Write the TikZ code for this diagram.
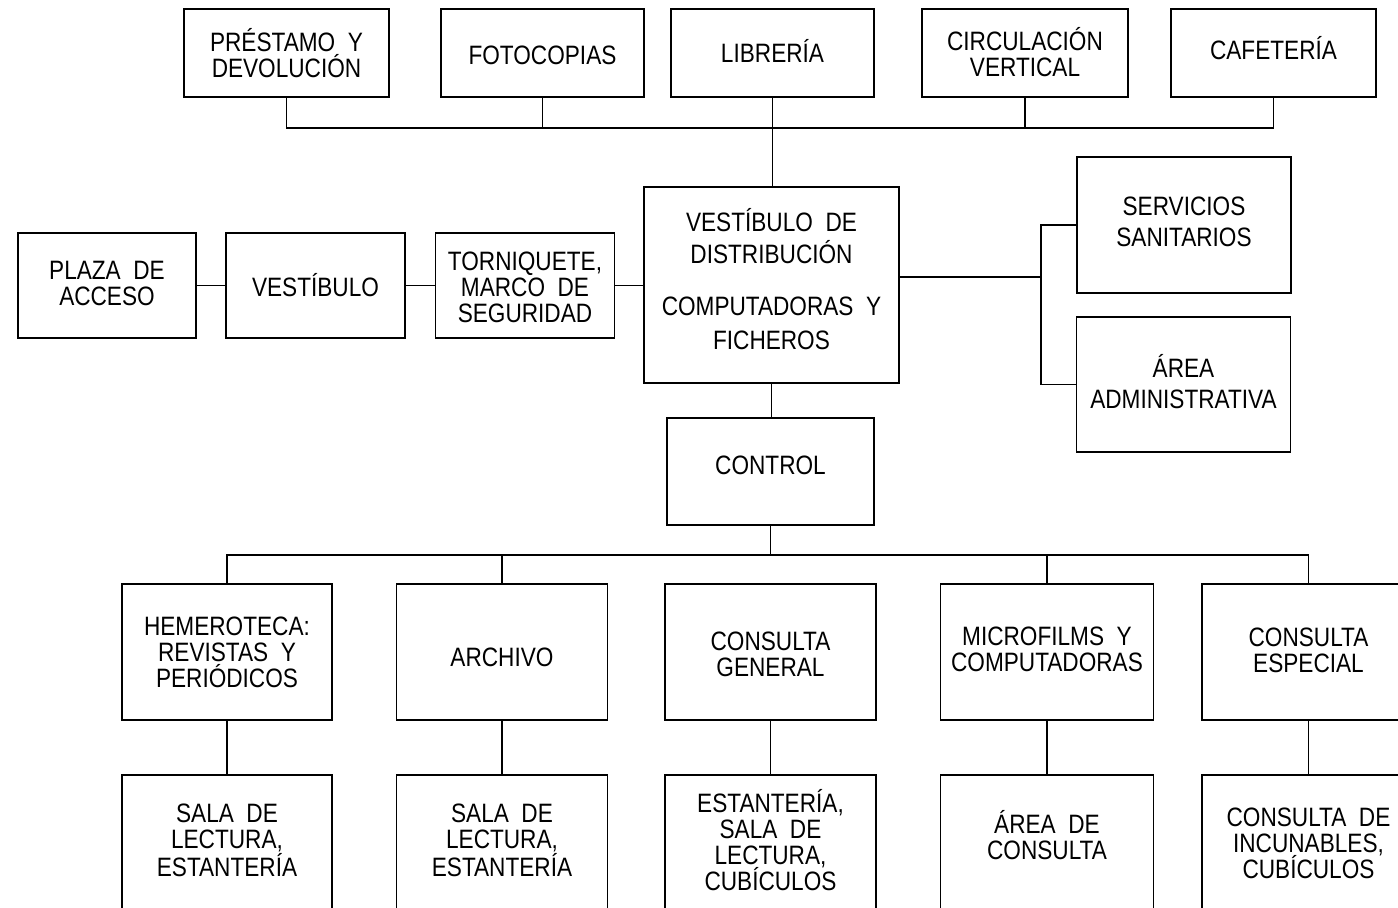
\documentclass[tikz,border=0pt]{standalone}
\usepackage{fontspec}
\setmainfont{Liberation Sans}[FakeStretch=0.85]
\begin{document}
\begin{tikzpicture}[x=0.5pt,y=-0.5pt,
  box/.style={draw,line width=0.9pt,rectangle,inner sep=0pt},
  txt/.style={inner sep=0pt,align=center,
    font={\fontsize{13.3}{13}\selectfont\lineskiplimit=-20pt}},
  link/.style={line width=0.8pt}]
\useasboundingbox (0,0) rectangle (1398,907);
\clip (0,0) rectangle (1398,907);
% top row
\node[box,minimum width=102.5pt,minimum height=44pt] (pres) at (286.5,53) {};
\node[txt] (prest) at (pres.center) {PRÉSTAMO\ \ Y\\DEVOLUCIÓN};
\node[box,minimum width=101.5pt,minimum height=44pt] (foto) at (542.5,53) {};
\node[txt] (fotot) at ([yshift=-1pt]foto.center) {FOTOCOPIAS};
\node[box,minimum width=101.5pt,minimum height=44pt] (libr) at (772.5,53) {};
\node[txt] (librt) at ([yshift=1pt]libr.center) {LIBRERÍA};
\node[box,minimum width=103pt,minimum height=44pt] (circ) at (1025,53) {};
\node[txt] (circt) at ([yshift=0.5pt]circ.center) {CIRCULACIÓN\\VERTICAL};
\node[box,minimum width=102.5pt,minimum height=44pt] (cafe) at (1273.5,53) {};
\node[txt] (cafet) at ([yshift=2.5pt]cafe.center) {CAFETERÍA};
% middle row
\node[box,minimum width=89pt,minimum height=52.5pt] (plaza) at (107,285.5) {};
\node[txt] (plazat) at ([yshift=1pt]plaza.center) {PLAZA\ \ DE\\ACCESO};
\node[box,minimum width=89.5pt,minimum height=52.5pt] (vest) at (315.5,285.5) {};
\node[txt] (vestt) at (vest.center) {VESTÍBULO};
\node[box,minimum width=89.5pt,minimum height=52.5pt] (torn) at (525,285.5) {};
\node[txt] (tornt) at ([yshift=-1pt]torn.center) {TORNIQUETE,\\MARCO\ \ DE\\SEGURIDAD};
\node[box,minimum width=127.5pt,minimum height=98pt] (dist) at (771.5,285) {};
\node[txt] (distt) at ([yshift=3pt]dist.center) {VESTÍBULO\ \ DE\\[3pt]DISTRIBUCIÓN\\[13pt]COMPUTADORAS\ \ Y\\[4pt]FICHEROS};
\node[box,minimum width=107pt,minimum height=68pt] (serv) at (1184,225) {};
\node[txt] (servt) at ([yshift=1.5pt]serv.center) {SERVICIOS\\[2.5pt]SANITARIOS};
\node[box,minimum width=107pt,minimum height=67.5pt] (area) at (1183.5,384.5) {};
\node[txt] (areat) at ([yshift=1.5pt]area.center) {ÁREA\\[2.5pt]ADMINISTRATIVA};
\node[box,minimum width=103.5pt,minimum height=53.5pt] (ctrl) at (770.5,471.5) {};
\node[txt] (ctrlt) at ([yshift=3pt]ctrl.center) {CONTROL};
% bottom row 1
\node[box,minimum width=105pt,minimum height=68pt] (hem) at (227,652) {};
\node[txt] (hemt) at (hem.center) {HEMEROTECA:\\REVISTAS\ \ Y\\PERIÓDICOS};
\node[box,minimum width=105.5pt,minimum height=68pt] (arch) at (502,652) {};
\node[txt] (archt) at ([yshift=-2.5pt]arch.center) {ARCHIVO};
\node[box,minimum width=105.5pt,minimum height=68pt] (cg) at (770.5,652) {};
\node[txt] (cgt) at ([yshift=-1pt]cg.center) {CONSULTA\\GENERAL};
\node[box,minimum width=106.5pt,minimum height=68pt] (micro) at (1047,652) {};
\node[txt] (microt) at ([yshift=1.5pt]micro.center) {MICROFILMS\ \ Y\\COMPUTADORAS};
\node[box,minimum width=106.5pt,minimum height=68pt] (ce) at (1308.5,652) {};
\node[txt] (cet) at ([yshift=1pt]ce.center) {CONSULTA\\ESPECIAL};
% bottom row 2
\node[box,minimum width=105pt,minimum height=68pt] (hem2) at (227,843) {};
\node[txt] (hem2t) at ([yshift=1.5pt]hem2.center) {SALA\ \ DE\\LECTURA,\\[1pt]ESTANTERÍA};
\node[box,minimum width=105.5pt,minimum height=68pt] (arch2) at (502,843) {};
\node[txt] (arch2t) at ([yshift=1.5pt]arch2.center) {SALA\ \ DE\\LECTURA,\\[1pt]ESTANTERÍA};
\node[box,minimum width=105.5pt,minimum height=68pt] (cg2) at (770.5,843) {};
\node[txt] (cg2t) at ([yshift=1.5pt]cg2.center) {ESTANTERÍA,\\SALA\ \ DE\\LECTURA,\\CUBÍCULOS};
\node[box,minimum width=106.5pt,minimum height=68pt] (micro2) at (1047,843) {};
\node[txt] (micro2t) at ([yshift=4pt]micro2.center) {ÁREA\ \ DE\\CONSULTA};
\node[box,minimum width=106.5pt,minimum height=68pt] (ce2) at (1308.5,843) {};
\node[txt] (ce2t) at (ce2.center) {CONSULTA\ \ DE\\INCUNABLES,\\CUBÍCULOS};
% connectors top
\coordinate (tb) at (0,128);
\draw[link] (pres.south) -- (pres.south |- tb) -- (cafe.south |- tb) -- (cafe.south);
\draw[link] (foto.south) -- (foto.south |- tb);
\draw[link] (circ.south) -- (circ.south |- tb);
\draw[link] (libr.south) -- (libr.south |- dist.north);
% middle
\draw[link] (plaza.east) -- (vest.west);
\draw[link] (vest.east) -- (torn.west);
\draw[link] (torn.east) -- (torn.east -| dist.west);
\coordinate (j) at (1041,277);
\draw[link] (dist.east |- j) -- (j);
\draw[link] (serv.west) -- (serv.west -| j) -- (area.west -| j) -- (area.west);
\draw[link] (dist.south) -- (dist.south |- ctrl.north);
% bottom
\coordinate (bb) at (0,555);
\draw[link] (ctrl.south) -- (ctrl.south |- bb);
\draw[link] (hem.north) -- (hem.north |- bb) -- (ce.north |- bb) -- (ce.north);
\draw[link] (arch.north) -- (arch.north |- bb);
\draw[link] (micro.north) -- (micro.north |- bb);
\draw[link] (hem.south) -- (hem2.north);
\draw[link] (arch.south) -- (arch2.north);
\draw[link] (cg.south) -- (cg2.north);
\draw[link] (micro.south) -- (micro2.north);
\draw[link] (ce.south) -- (ce2.north);
\end{tikzpicture}
\end{document}
